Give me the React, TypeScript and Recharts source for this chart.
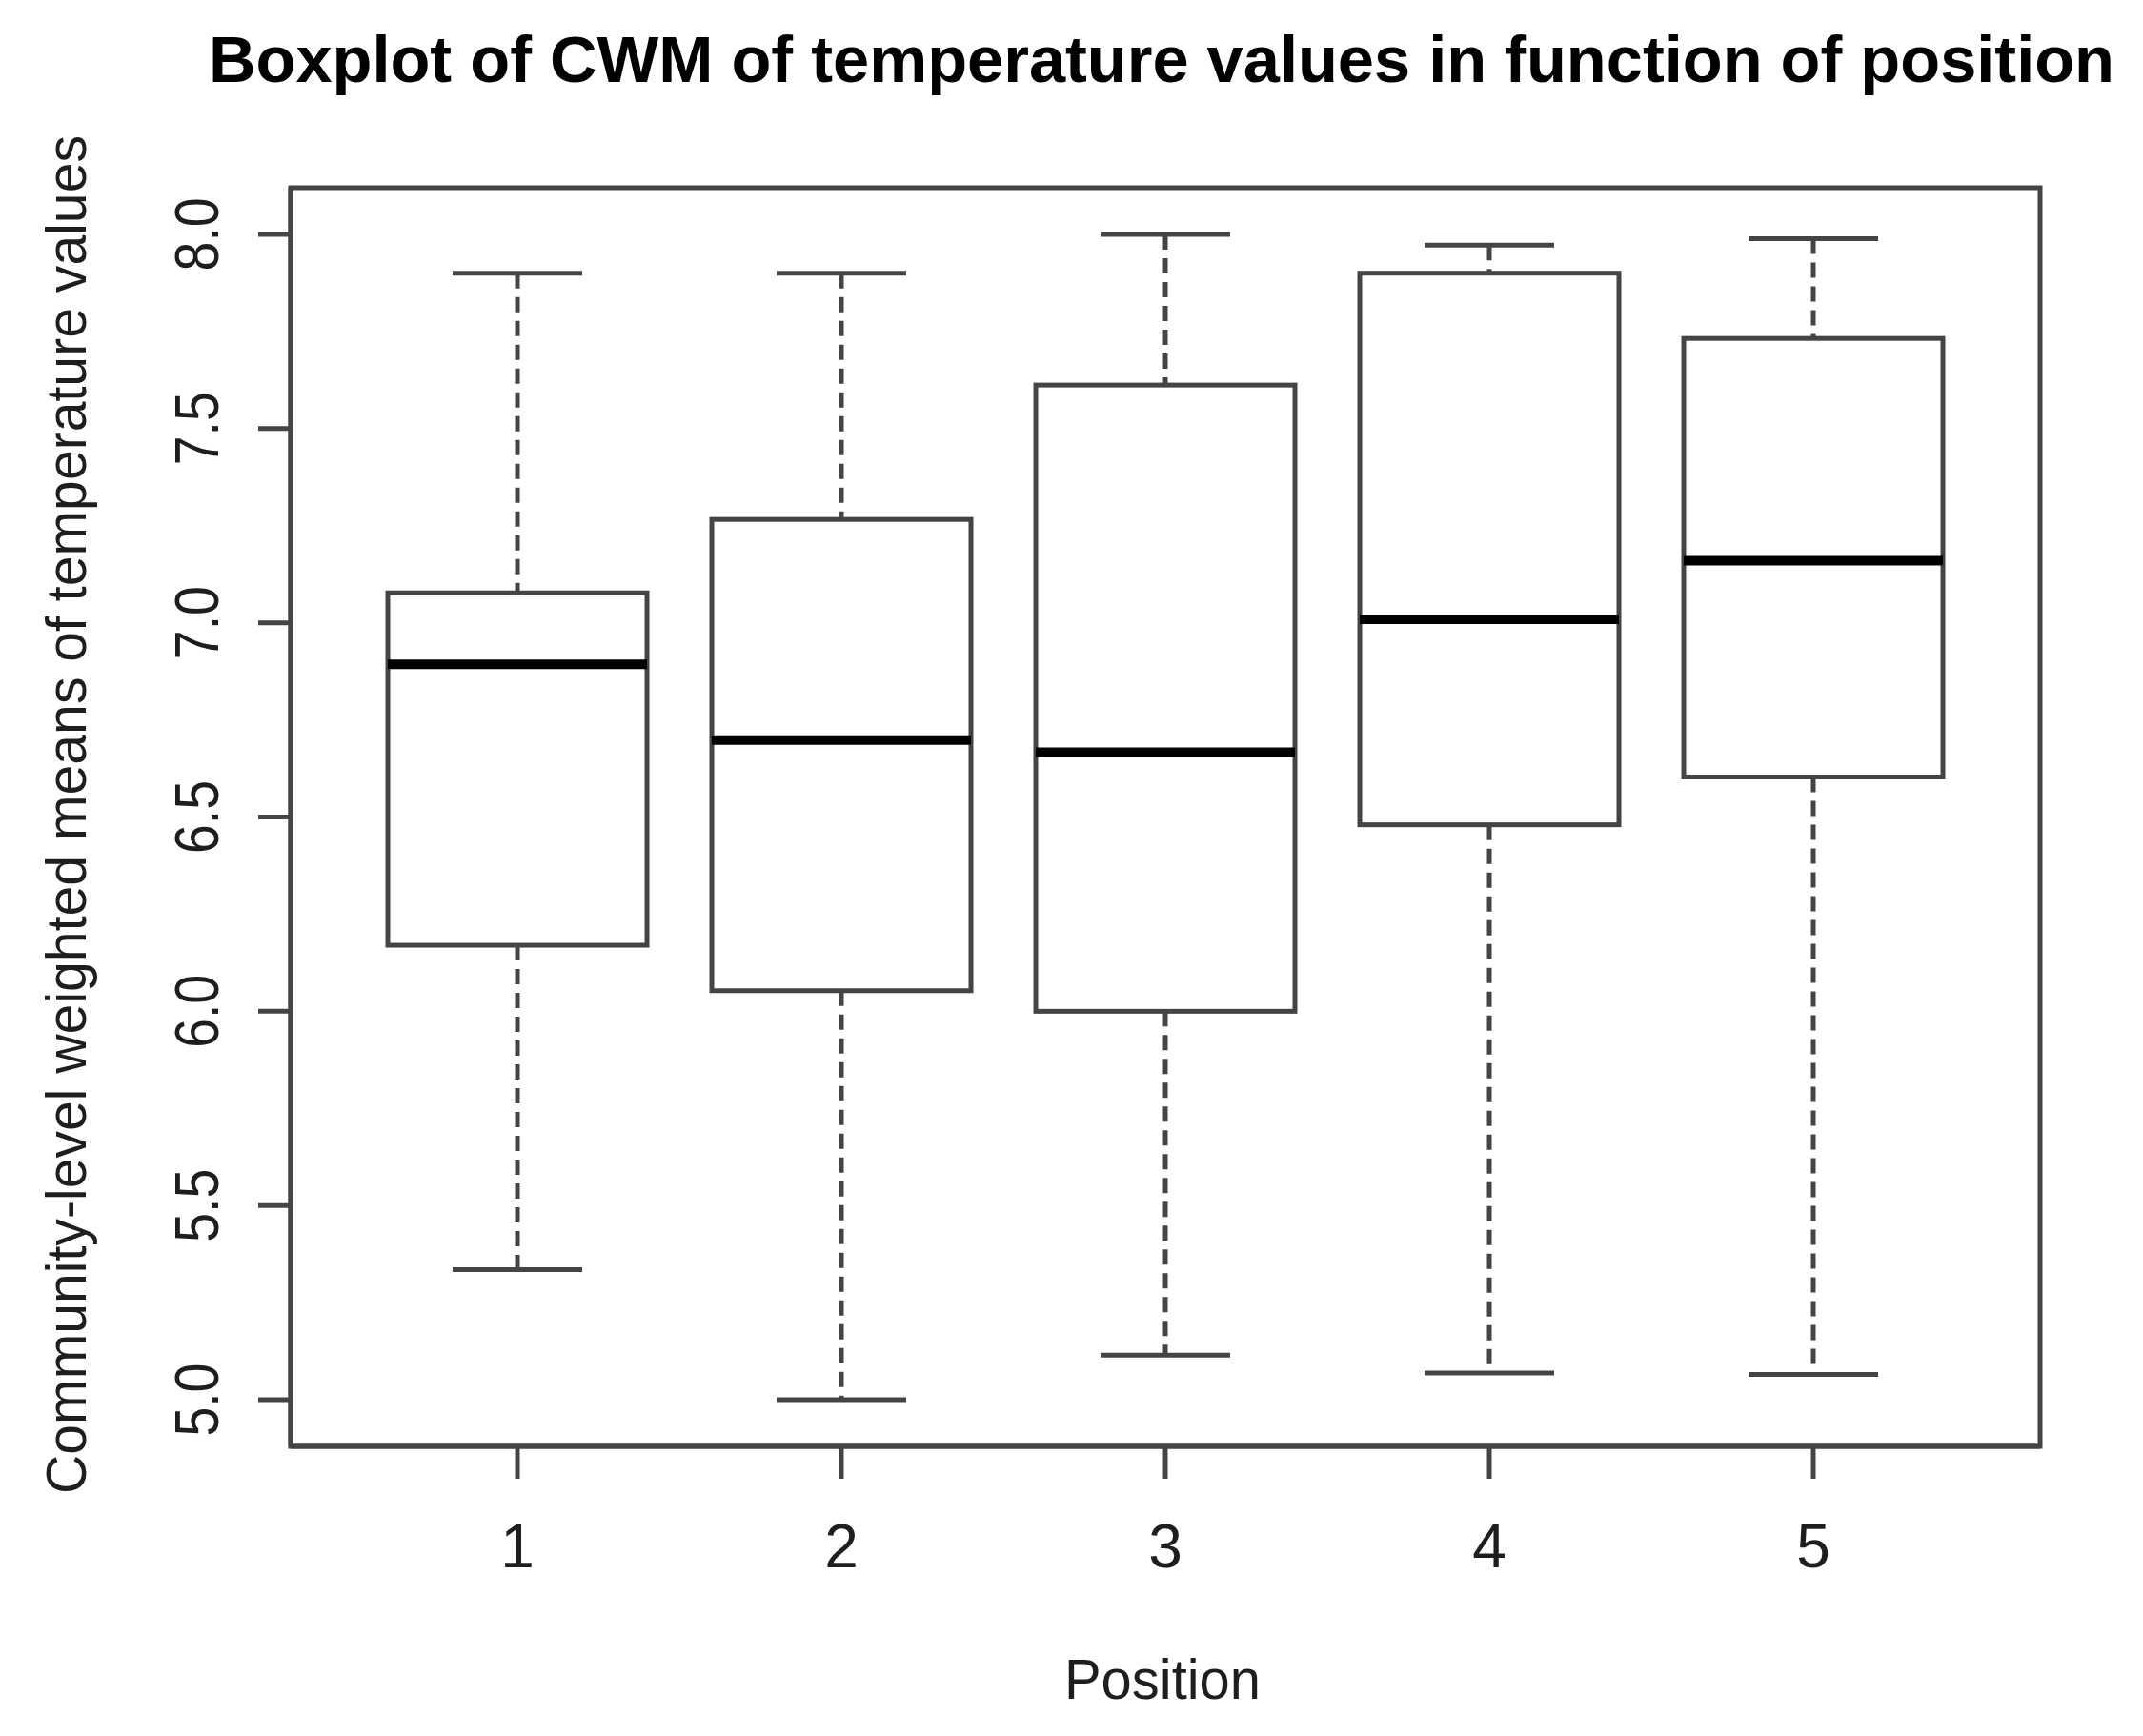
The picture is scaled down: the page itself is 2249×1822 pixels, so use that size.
import React from "react";
import { ComposedChart, Bar, XAxis, YAxis, ReferenceArea } from "recharts";

const positions = [1, 2, 3, 4, 5];
const whiskerLow = [5.335, 5.0, 5.115, 5.069, 5.065];
const quartile1 = [6.17, 6.053, 6.0, 6.48, 6.603];
const medians = [6.893, 6.698, 6.667, 7.009, 7.16];
const quartile3 = [7.077, 7.266, 7.612, 7.9, 7.732];
const whiskerHigh = [7.9, 7.9, 8.0, 7.972, 7.989];
const yTicks = [5.0, 5.5, 6.0, 6.5, 7.0, 7.5, 8.0];
const yDomain = [4.88, 8.12];
const xDomain = [0.3, 5.7];

const titleText = "Boxplot of CWM of temperature values in function of position";
const xLabelText = "Position";
const yLabelText = "Community-level weighted means of temperature values";

const data = positions.map((p, i) => ({
  pos: p,
  range: [whiskerLow[i], whiskerHigh[i]],
  low: whiskerLow[i],
  q1: quartile1[i],
  med: medians[i],
  q3: quartile3[i],
  high: whiskerHigh[i],
}));

const W = 2249;
const H = 1822;
const FONT = "'Liberation Sans', Arial, Helvetica, sans-serif";
const LINE = "#444444";
const SW = 5;

function BoxShape(props: any) {
  const { x, y, width, height, payload } = props;
  if (!payload) return null;
  const top = Math.min(y, y + height);
  const h = Math.abs(height);
  const lo = payload.low;
  const hi = payload.high;
  const py = (v: number) => top + ((hi - v) / (hi - lo)) * h;
  const cx = x + width / 2;
  const capHalf = width / 4;
  return (
    <g>
      <line x1={cx} x2={cx} y1={py(hi)} y2={py(payload.q3)} stroke={LINE} strokeWidth={SW} strokeDasharray="16 9" />
      <line x1={cx} x2={cx} y1={py(payload.q1)} y2={py(lo)} stroke={LINE} strokeWidth={SW} strokeDasharray="16 9" />
      <line x1={cx - capHalf} x2={cx + capHalf} y1={py(hi)} y2={py(hi)} stroke={LINE} strokeWidth={SW} />
      <line x1={cx - capHalf} x2={cx + capHalf} y1={py(lo)} y2={py(lo)} stroke={LINE} strokeWidth={SW} />
      <rect
        x={x}
        y={py(payload.q3)}
        width={width}
        height={py(payload.q1) - py(payload.q3)}
        fill="#ffffff"
        stroke={LINE}
        strokeWidth={SW}
      />
      <line x1={x} x2={x + width} y1={py(payload.med)} y2={py(payload.med)} stroke="#000000" strokeWidth={10} />
    </g>
  );
}

function YTick(props: any) {
  const { x, y, payload } = props;
  return (
    <text
      x={x}
      y={y}
      transform={`rotate(-90, ${x}, ${y})`}
      textAnchor="middle"
      fontFamily={FONT}
      fontSize={64}
      fill="#1e1e1e"
      textLength={77}
      lengthAdjust="spacingAndGlyphs"
    >
      {Number(payload.value).toFixed(1)}
    </text>
  );
}

function XTick(props: any) {
  const { x, y, payload } = props;
  return (
    <text x={x} y={y} textAnchor="middle" fontFamily={FONT} fontSize={64} fill="#1e1e1e">
      {payload.value}
    </text>
  );
}

export default function App() {
  return (
    <div style={{ position: "absolute", left: 0, top: 0, width: W, height: H, background: "#fff" }}>
      <ComposedChart
        width={W}
        height={H}
        data={data}
        margin={{ top: 197, right: 108, bottom: 204, left: 205 }}
        barCategoryGap="10%"
      >
        <XAxis
          dataKey="pos"
          type="number"
          domain={xDomain}
          allowDataOverflow
          ticks={positions}
          interval={0}
          height={100}
          tickSize={34}
          tickMargin={93}
          tick={<XTick />}
          axisLine={{ stroke: LINE, strokeWidth: SW }}
          tickLine={{ stroke: LINE, strokeWidth: SW }}
        />
        <YAxis
          type="number"
          domain={yDomain}
          allowDataOverflow
          ticks={yTicks}
          width={100}
          tickSize={34}
          tickMargin={42}
          tick={<YTick />}
          axisLine={{ stroke: LINE, strokeWidth: SW }}
          tickLine={{ stroke: LINE, strokeWidth: SW }}
        />
        <ReferenceArea
          x1={xDomain[0]}
          x2={xDomain[1]}
          y1={yDomain[0]}
          y2={yDomain[1]}
          fill="none"
          fillOpacity={0}
          stroke={LINE}
          strokeWidth={SW}
          ifOverflow="visible"
        />
        <Bar dataKey="range" shape={<BoxShape />} isAnimationActive={false} />
      </ComposedChart>
      <svg
        width={W}
        height={H}
        style={{ position: "absolute", left: 0, top: 0, pointerEvents: "none" }}
      >
        <text
          x={1219}
          y={86}
          textAnchor="middle"
          fontFamily={FONT}
          fontWeight="bold"
          fontSize={68}
          fill="#000"
          textLength={2000}
          lengthAdjust="spacingAndGlyphs"
        >
          {titleText}
        </text>
        <text
          x={1220}
          y={1783}
          textAnchor="middle"
          fontFamily={FONT}
          fontSize={60}
          fill="#1e1e1e"
          textLength={206}
          lengthAdjust="spacingAndGlyphs"
        >
          {xLabelText}
        </text>
        <text
          x={90}
          y={855}
          transform="rotate(-90, 90, 855)"
          textAnchor="middle"
          fontFamily={FONT}
          fontSize={60}
          fill="#1e1e1e"
          textLength={1426}
          lengthAdjust="spacingAndGlyphs"
        >
          {yLabelText}
        </text>
      </svg>
    </div>
  );
}
